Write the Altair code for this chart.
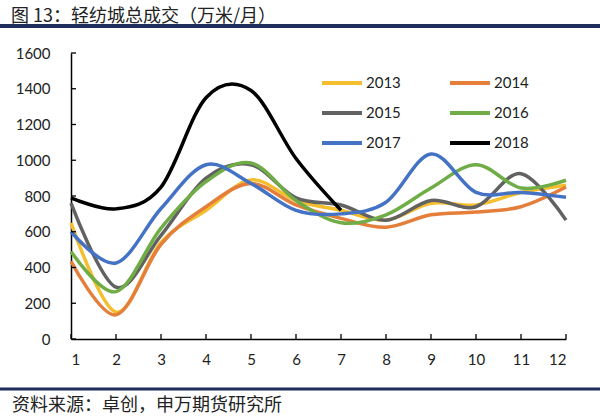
import altair as alt
import pandas as pd

months = list(range(1, 13))
years = ["2013", "2014", "2015", "2016", "2017", "2018"]
v2013 = [650, 150, 540, 720, 890, 775, 720, 665, 760, 750, 820, 860]
v2014 = [435, 135, 530, 740, 870, 750, 675, 625, 695, 710, 740, 850]
v2015 = [760, 290, 580, 900, 975, 790, 750, 665, 775, 740, 925, 665]
v2016 = [490, 265, 620, 880, 985, 775, 650, 695, 845, 975, 845, 888]
v2017 = [600, 425, 730, 975, 870, 720, 700, 765, 1035, 820, 820, 793]
v2018 = [790, 728, 850, 1350, 1390, 1010, 720]
colors = ["#F4BE2E", "#E47E3A", "#626262", "#70AD47", "#4472C4", "#000000"]
y_ticks = [0, 200, 400, 600, 800, 1000, 1200, 1400, 1600]
title_text = "图 13：轻纺城总成交（万米/月）"
source_text = "资料来源：卓创，申万期货研究所"

series = [v2013, v2014, v2015, v2016, v2017, v2018]
rows = []
for yr, vals in zip(years, series):
    for i, v in enumerate(vals):
        rows.append({"month": months[i], "value": v, "year": yr})
df = pd.DataFrame(rows)

# legend fills column by column: order domain so rows read 2013 2014 / 2015 2016 / 2017 2018
legend_order = years[0::2] + years[1::2]
color_map = dict(zip(years, colors))
legend_colors = [color_map[y] for y in legend_order]

W, H = 495, 286
NAVY = "#1F2D5C"
FONT = "Lato"
CJK = "Noto Sans CJK SC"

xscale = alt.Scale(domain=[1, 12], nice=False, zero=False)
yscale = alt.Scale(domain=[0, 1600], nice=False)

xaxis = alt.Axis(values=months, ticks=False, grid=False, labelFont=FONT,
                 labelFontSize=15, labelColor="#222", labelPadding=13,
                 labelOverlap=False, domainColor="#000", domainWidth=1.5, format="d")
yaxis = alt.Axis(values=y_ticks, ticks=False, grid=False, labelFont=FONT,
                 labelFontSize=15, labelColor="#222", labelPadding=21,
                 labelOverlap=False, domainColor="#000", domainWidth=1.5, format="d")

lines = alt.Chart(df).mark_line(interpolate="cardinal", tension=0, strokeWidth=3.5).encode(
    x=alt.X("month:Q", scale=xscale, title=None, axis=xaxis),
    y=alt.Y("value:Q", scale=yscale, title=None, axis=yaxis),
    color=alt.Color("year:N", scale=alt.Scale(domain=legend_order, range=legend_colors),
                    legend=alt.Legend(orient="none", legendX=249, legendY=8, columns=2,
                                      symbolType="stroke", symbolSize=1600,
                                      symbolStrokeWidth=4, labelFont=FONT,
                                      labelFontSize=15, labelColor="#222", title=None,
                                      columnPadding=41, rowPadding=-1, labelOffset=2)),
    order=alt.Order("year:N"),
    detail="year:N",
)

ytick_df = pd.DataFrame({"value": y_ticks})
yticks = alt.Chart(ytick_df).mark_rule(color="#000", strokeWidth=1.3).encode(
    y=alt.Y("value:Q", scale=yscale, title=None, axis=yaxis),
    x=alt.value(0), x2=alt.value(5),
)
xtick_df = pd.DataFrame({"month": months})
xticks = alt.Chart(xtick_df).mark_rule(color="#000", strokeWidth=1.3).encode(
    x=alt.X("month:Q", scale=xscale, title=None, axis=xaxis),
    y=alt.value(H), y2=alt.value(H - 5),
)

title_df = pd.DataFrame({"t": [title_text]})
title_mark = alt.Chart(title_df).mark_text(
    font=CJK, fontSize=18, align="left", baseline="alphabetic", color="#222"
).encode(text="t:N", x=alt.value(-60), y=alt.value(-31))

source_df = pd.DataFrame({"t": [source_text]})
source_mark = alt.Chart(source_df).mark_text(
    font=CJK, fontSize=18, align="left", baseline="alphabetic", color="#222"
).encode(text="t:N", x=alt.value(-59), y=alt.value(358))

top_line = alt.Chart(title_df).mark_rule(color=NAVY, strokeWidth=4).encode(
    x=alt.value(-71), x2=alt.value(529), y=alt.value(-27))
bot_line = alt.Chart(source_df).mark_rule(color=NAVY, strokeWidth=3).encode(
    x=alt.value(-71), x2=alt.value(529), y=alt.value(336))

chart = alt.layer(lines, yticks, xticks, title_mark, source_mark, top_line, bot_line).properties(
    width=W, height=H,
    autosize=alt.AutoSizeParams(type="none"),
    padding={"left": 71, "top": 53, "right": 34, "bottom": 77},
    background="white",
).configure_view(stroke=None)

chart.save("out.html", embed_options={"renderer": "svg", "actions": False})
